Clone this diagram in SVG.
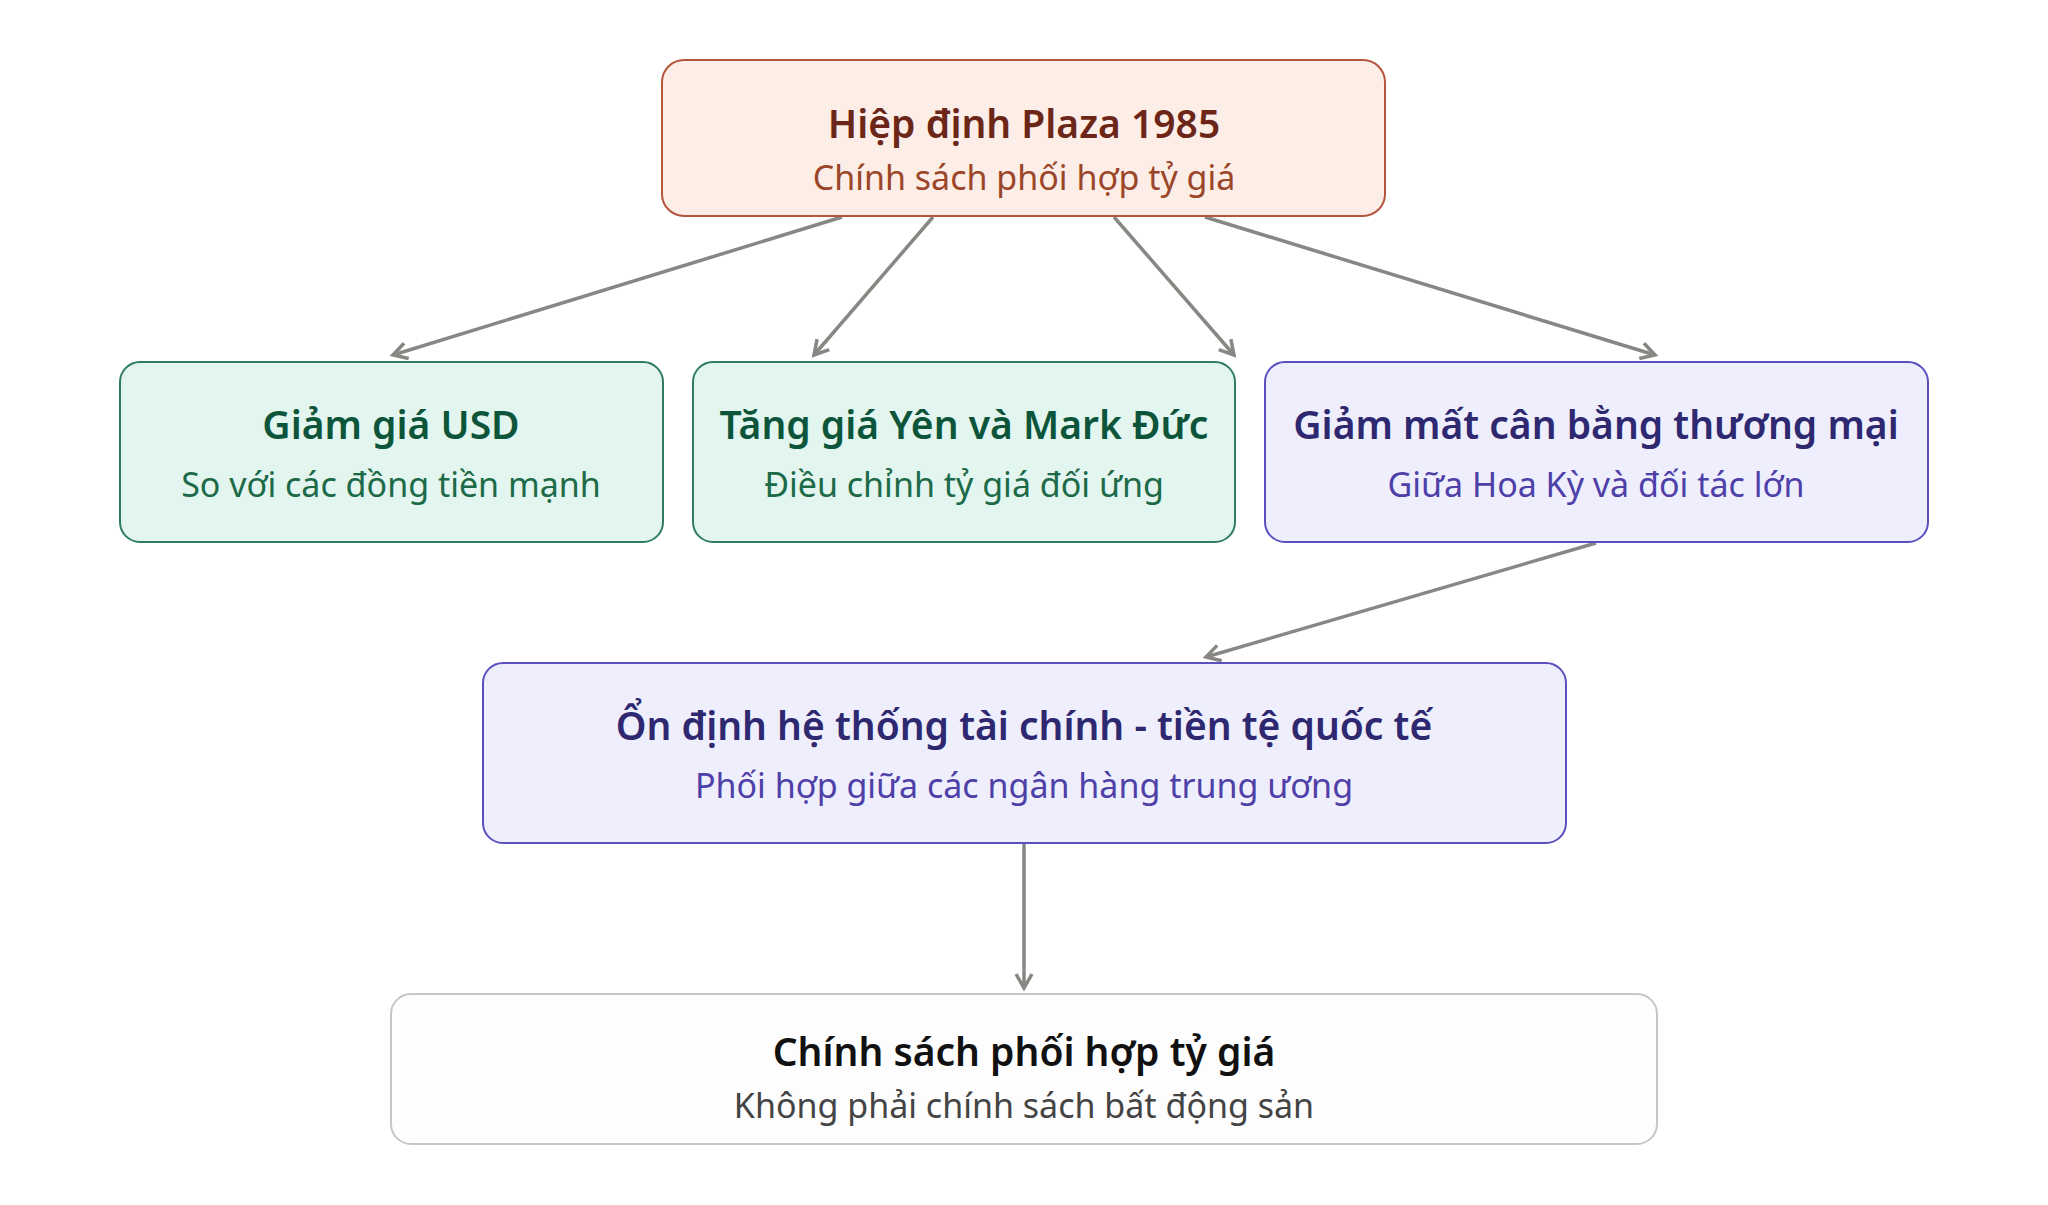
<svg xmlns="http://www.w3.org/2000/svg" width="2048" height="1205" viewBox="0 0 2048 1205">
<defs>
<style>
.t{font-family:"Noto Sans","Open Sans","Liberation Sans",sans-serif;font-weight:600;font-size:39px;text-anchor:middle}
.s{font-family:"Noto Sans","Open Sans","Liberation Sans",sans-serif;font-weight:400;font-size:34px;text-anchor:middle}
.edge{stroke:#878783;stroke-width:3.5;fill:none;marker-end:url(#arr)}
.peach{fill:#fdede7;stroke:#b5553d;stroke-width:2}
.green{fill:#e2f5ee;stroke:#2f7d5c;stroke-width:2}
.purple{fill:#eeeefc;stroke:#5a4fbf;stroke-width:2}
.gray{fill:#fdfdfd;stroke:#c6c6c6;stroke-width:2}
</style>
<marker id="arr" markerUnits="userSpaceOnUse" markerWidth="30" markerHeight="30" refX="16" refY="10" orient="auto">
<path d="M2,2 L16,10 L2,18" fill="none" stroke="#878783" stroke-width="3.5" stroke-linejoin="miter"/>
</marker>
</defs>
<rect width="2048" height="1205" fill="#ffffff"/>
<g id="connectors">
<line class="edge" x1="842" y1="217" x2="393" y2="355"/>
<line class="edge" x1="933" y1="217" x2="814" y2="355"/>
<line class="edge" x1="1114" y1="217" x2="1234" y2="355"/>
<line class="edge" x1="1205" y1="217" x2="1655" y2="355"/>
<line class="edge" x1="1596" y1="543" x2="1206" y2="657"/>
<line class="edge" x1="1024" y1="844" x2="1024" y2="988"/>
</g>
<g id="node-plaza">
<rect class="peach" x="662" y="60" width="723" height="156" rx="22"/>
<text class="t" x="1024" y="138" fill="#6b2617">Hiệp định Plaza 1985</text>
<text class="s" x="1024" y="190" fill="#9b4628">Chính sách phối hợp tỷ giá</text>
</g>
<g id="node-usd">
<rect class="green" x="120" y="362" width="543" height="180" rx="20"/>
<text class="t" x="391" y="439" fill="#0c553b">Giảm giá USD</text>
<text class="s" x="391" y="497" fill="#1c6a48">So với các đồng tiền mạnh</text>
</g>
<g id="node-yen">
<rect class="green" x="693" y="362" width="542" height="180" rx="20"/>
<text class="t" x="964" y="439" fill="#0c553b">Tăng giá Yên và Mark Đức</text>
<text class="s" x="964" y="497" fill="#1c6a48">Điều chỉnh tỷ giá đối ứng</text>
</g>
<g id="node-trade">
<rect class="purple" x="1265" y="362" width="663" height="180" rx="20"/>
<text class="t" x="1596" y="439" fill="#2e2870">Giảm mất cân bằng thương mại</text>
<text class="s" x="1596" y="497" fill="#4f3fa8">Giữa Hoa Kỳ và đối tác lớn</text>
</g>
<g id="node-stable">
<rect class="purple" x="483" y="663" width="1083" height="180" rx="20"/>
<text class="t" x="1024" y="740" fill="#2e2870">Ổn định hệ thống tài chính - tiền tệ quốc tế</text>
<text class="s" x="1024" y="798" fill="#4f3fa8">Phối hợp giữa các ngân hàng trung ương</text>
</g>
<g id="node-policy">
<rect class="gray" x="391" y="994" width="1266" height="150" rx="20"/>
<text class="t" x="1024" y="1066" fill="#111111">Chính sách phối hợp tỷ giá</text>
<text class="s" x="1024" y="1118" fill="#444444">Không phải chính sách bất động sản</text>
</g>
</svg>
